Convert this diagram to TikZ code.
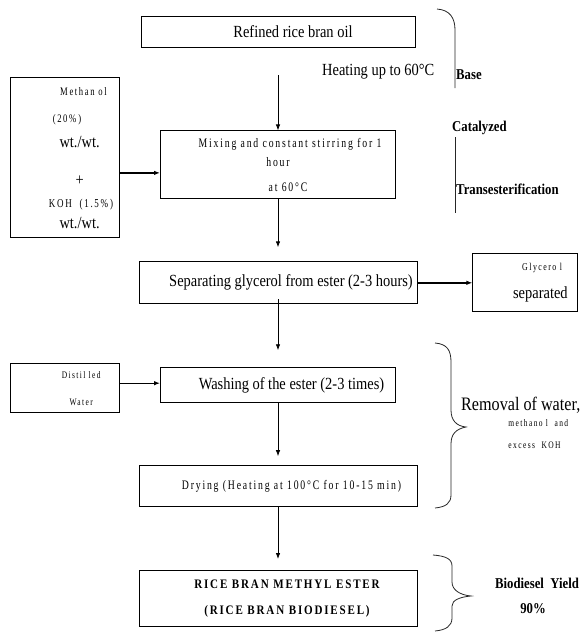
\documentclass[tikz,border=0pt]{standalone}
\usepackage{fontspec}
\setmainfont{Liberation Serif}[FakeStretch=0.85]
\newfontfamily\spacedfont{Liberation Serif}[FakeStretch=0.75,LetterSpace=14]
\usepackage{tikz}
\usetikzlibrary{arrows.meta,positioning}
\tikzset{
  stepbox/.style={draw=black, line width=0.9pt, align=center, inner sep=2pt, font=\fontsize{17}{20}\selectfont},
  sidebox/.style={draw=black, line width=0.9pt, align=center, inner sep=2pt, minimum width=109pt, font=\fontsize{17}{20}\selectfont},
  flowarrow/.style={-{Latex[length=6pt,width=4.5pt]}, line width=0.8pt, draw=black},
  feedarrow/.style={flowarrow, line width=1.4pt},
  bracepath/.style={line width=0.8pt, draw=black!85},
  bracelabel/.style={anchor=west, inner sep=0pt, font=\bfseries\fontsize{15}{18}\selectfont},
  notelabel/.style={anchor=west, inner sep=0pt, font=\fontsize{17}{20}\selectfont}
}
\newcommand{\spacedtext}[1][13]{\spacedfont\fontsize{#1}{16}\selectfont}

\begin{document}
\begin{tikzpicture}[x=1pt, y=-1pt]
  \useasboundingbox (0,0) rectangle (580,632);
  \node[stepbox, minimum width=274pt, minimum height=31pt] (oil) at (278,31.5) {\hspace*{30pt}Refined rice bran oil};
  \node[stepbox, minimum width=235pt, minimum height=68pt, below=83pt of oil] (mix) {\hspace*{24pt}\spacedtext Mixing and constant stirring for 1\\[-1pt] \spacedtext hour\\[5pt] \hspace*{20pt}\spacedtext at 60°C};
  \node[stepbox, minimum width=278pt, minimum height=42pt, below=62pt of mix] (sep) {\hspace*{26pt}Separating glycerol from ester (2-3 hours)};
  \node[stepbox, minimum width=235pt, minimum height=35pt, below=63pt of sep] (wash) {\hspace*{27pt}Washing of the ester (2-3 times)};
  \node[stepbox, minimum width=278pt, minimum height=41pt, below=62pt of wash] (dry) {\hspace*{27pt}\spacedtext Drying (Heating at 100°C for 10-15 min)};
  \node[stepbox, minimum width=278pt, minimum height=56pt, below=63pt of dry, font=\bfseries\fontsize{13}{20}\selectfont] (ester) {\hspace*{18pt}\addfontfeature{LetterSpace=14}RICE BRAN METHYL ESTER\\[6pt] \hspace*{18pt}\addfontfeature{LetterSpace=14}(RICE BRAN BIODIESEL)};
  \node[sidebox, minimum height=160pt, left=40pt of mix, yshift=7pt] (meoh) {\hspace*{33pt}\spacedtext[11.5] Methan ol\\[7pt] \spacedtext[11.5] (20\%\,)\\[5pt] \hspace*{29pt}wt./wt.\\[18pt] \hspace*{29pt}+\\[2pt] \hspace*{28pt}\spacedtext[12] KOH\ \ (1.5\%\,)\\[1pt] \hspace*{29pt}wt./wt.};
  \node[sidebox, minimum width=105pt, minimum height=58pt, right=55pt of sep] (glyc) {\hspace*{30pt}\spacedtext[10.5] Glycero l\\[8pt] \hspace*{30pt}separated};
  \node[sidebox, minimum height=49pt, left=40pt of wash, yshift=-3pt] (water) {\hspace*{29pt}\spacedtext[10] Distil led\\[7pt] \hspace*{29pt}\spacedtext[10] Water};
  \node[notelabel] (heat) at (322,72) {Heating up to 60°C};
  \draw[flowarrow] ([yshift=-28pt]oil.south) -- (mix.north);
  \draw[feedarrow] ([yshift=-15pt]meoh.east) -- ([yshift=-15pt]meoh.east -| mix.west);
  \draw[flowarrow] ([yshift=1pt]mix.south) -- ([yshift=14pt]sep.north);
  \draw[feedarrow] (sep) -- (glyc);
  \draw[flowarrow] ([yshift=5pt]sep.south) -- ([yshift=17pt]wash.north);
  \draw[feedarrow] ([yshift=5pt]water.east) -- ([yshift=5pt]water.east -| wash.west);
  \draw[flowarrow] (wash.south) -- ([yshift=9pt]dry.north);
  \draw[flowarrow] (dry.south) -- ([yshift=11pt]ester.north);
  \draw[bracepath] (437,9) .. controls (450,10) and (455,18) .. (455,30) -- (455,88);
  \draw[bracepath] (455,137) -- (455,213);
  \node[bracelabel] (base) at (456,75) {Base};
  \node[bracelabel] (cat) at (452,128) {Catalyzed};
  \node[bracelabel] (trans) at (456,189) {Transesterification};
  \draw[bracepath] (435,343) .. controls (447,344) and (451,350) .. (451,362) -- (451,410) .. controls (451,420) and (456,426) .. (466,427) .. controls (456,429) and (451,434) .. (451,444) -- (451,495) .. controls (451,503) and (446,507) .. (435,508);
  \node[notelabel, font=\fontsize{19}{22}\selectfont] (removal) at (461,405) {Removal of water,};
  \node[anchor=west, inner sep=0pt] (meth) at (505,423) {\spacedtext[10] methano l\ \ and};
  \node[anchor=west, inner sep=0pt] (koh) at (505,445) {\spacedtext[10] excess\ \ KOH};
  \draw[bracepath] (433,555) .. controls (446,556) and (452,559) .. (452,566) -- (452,582) .. controls (452,590) and (460,595) .. (471,596) .. controls (460,597) and (452,600) .. (452,606) -- (452,618) .. controls (452,626) and (446,630) .. (435,631);
  \node[bracelabel, anchor=center] (yield) at (537,583) {Biodiesel\ \ Yield};
  \node[bracelabel, anchor=center] (pct) at (533,609) {90\%};
\end{tikzpicture}
\end{document}
